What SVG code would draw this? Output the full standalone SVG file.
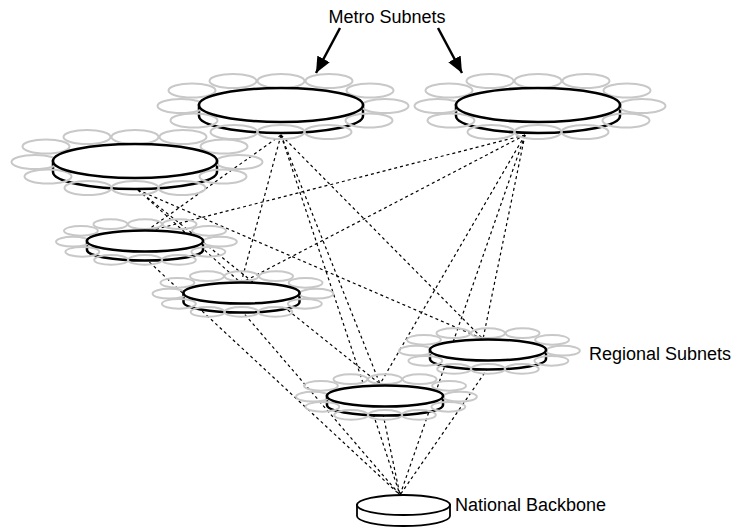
<svg xmlns="http://www.w3.org/2000/svg" xmlns:xlink="http://www.w3.org/1999/xlink" width="737" height="528" viewBox="0 0 737 528">
<style>
.ring ellipse{fill:none;stroke:#c8c8c8;stroke-width:2;vector-effect:non-scaling-stroke}
.disk{fill:#fff;stroke:#000;stroke-width:2.5}
.conn line{stroke:#000;stroke-width:1.2;stroke-dasharray:3 3;fill:none}
.lbl{font-family:"Liberation Sans",Arial,sans-serif;font-size:18px;fill:#000}
.arrow{stroke:#000;stroke-width:2.5;fill:none}
</style>
<defs>
<marker id="ah" markerUnits="userSpaceOnUse" markerWidth="18" markerHeight="14" refX="16" refY="7" orient="auto">
<path d="M0,0 L16,7 L0,14 Z" fill="#000"/>
</marker>
<g id="ring" class="ring">
<ellipse cx="-48" cy="-24" rx="23.5" ry="7"/>
<ellipse cx="0" cy="-24" rx="23.5" ry="7"/>
<ellipse cx="48" cy="-24" rx="23.5" ry="7"/>
<ellipse cx="-89" cy="-14.5" rx="23.5" ry="7"/>
<ellipse cx="89" cy="-14.5" rx="23.5" ry="7"/>
<ellipse cx="-100" cy="1" rx="23.5" ry="7"/>
<ellipse cx="104" cy="1" rx="23.5" ry="7"/>
<ellipse cx="-87" cy="15.5" rx="23.5" ry="7"/>
<ellipse cx="88" cy="15.5" rx="23.5" ry="7"/>
<ellipse cx="-47" cy="27" rx="23.5" ry="7"/>
<ellipse cx="0" cy="27" rx="23.5" ry="7"/>
<ellipse cx="47" cy="27" rx="23.5" ry="7"/>
</g>
</defs>
<rect width="737" height="528" fill="#fff"/>
<g id="connectors" class="conn">
<line x1="281" y1="135" x2="145" y2="232"/>
<line x1="281" y1="135" x2="241" y2="283"/>
<line x1="281" y1="135" x2="380" y2="384"/>
<line x1="281" y1="135" x2="483" y2="339"/>
<line x1="281" y1="135" x2="400" y2="495"/>
<line x1="525" y1="135" x2="145" y2="232"/>
<line x1="525" y1="135" x2="241" y2="283"/>
<line x1="525" y1="135" x2="380" y2="384"/>
<line x1="525" y1="135" x2="483" y2="339"/>
<line x1="525" y1="135" x2="400" y2="495"/>
<line x1="138" y1="190" x2="241" y2="283"/>
<line x1="138" y1="190" x2="380" y2="384"/>
<line x1="138" y1="190" x2="483" y2="339"/>
<line x1="145" y1="258" x2="400" y2="495"/>
<line x1="241" y1="310" x2="400" y2="495"/>
<line x1="383" y1="414" x2="400" y2="495"/>
<line x1="488" y1="368" x2="400" y2="495"/>
</g>
<g id="metro-1">
<path class="disk" d="M199,105 L199,116 A82,17 0 0 0 363,116 L363,105 Z"/>
<use xlink:href="#ring" href="#ring" transform="translate(281,105)"/>
<ellipse class="disk" cx="281" cy="105" rx="82" ry="17"/>
</g>
<g id="metro-2">
<path class="disk" d="M456,105 L456,116 A82,17 0 0 0 620,116 L620,105 Z"/>
<use xlink:href="#ring" href="#ring" transform="translate(538,105)"/>
<ellipse class="disk" cx="538" cy="105" rx="82" ry="17"/>
</g>
<g id="metro-3">
<path class="disk" d="M53,161 L53,172 A82,17 0 0 0 217,172 L217,161 Z"/>
<use xlink:href="#ring" href="#ring" transform="translate(135,161)"/>
<ellipse class="disk" cx="135" cy="161" rx="82" ry="17"/>
</g>
<g id="regional-1">
<path class="disk" d="M87,241 L87,250 A58,10.5 0 0 0 203,250 L203,241 Z"/>
<use xlink:href="#ring" href="#ring" transform="translate(145,241) scale(0.72,0.7)"/>
<ellipse class="disk" cx="145" cy="241" rx="58" ry="10.5"/>
</g>
<g id="regional-2">
<path class="disk" d="M183.5,293 L183.5,302 A58,10.5 0 0 0 299.5,302 L299.5,293 Z"/>
<use xlink:href="#ring" href="#ring" transform="translate(241.5,293) scale(0.72,0.7)"/>
<ellipse class="disk" cx="241.5" cy="293" rx="58" ry="10.5"/>
</g>
<g id="regional-3">
<path class="disk" d="M327,396 L327,405 A58,10.5 0 0 0 443,405 L443,396 Z"/>
<use xlink:href="#ring" href="#ring" transform="translate(385,396) scale(0.72,0.7)"/>
<ellipse class="disk" cx="385" cy="396" rx="58" ry="10.5"/>
</g>
<g id="regional-4">
<path class="disk" d="M430,350 L430,359 A58,10.5 0 0 0 546,359 L546,350 Z"/>
<use xlink:href="#ring" href="#ring" transform="translate(488,350) scale(0.72,0.7)"/>
<ellipse class="disk" cx="488" cy="350" rx="58" ry="10.5"/>
</g>
<g id="national-backbone">
<path d="M357,505 L357,516 A46.5,10 0 0 0 450,516 L450,505 Z" fill="#fff" stroke="#000" stroke-width="1.8"/>
<ellipse cx="403.5" cy="505" rx="46.5" ry="10" fill="#fff" stroke="#000" stroke-width="1.8"/>
<text class="lbl" x="455" y="511">National Backbone</text>
</g>
<g id="labels">
<text class="lbl" x="387" y="23" text-anchor="middle">Metro Subnets</text>
<text class="lbl" x="589" y="360">Regional Subnets</text>
<line class="arrow" x1="340" y1="28" x2="316" y2="73" marker-end="url(#ah)"/>
<line class="arrow" x1="438" y1="28" x2="462" y2="73" marker-end="url(#ah)"/>
</g>
</svg>
